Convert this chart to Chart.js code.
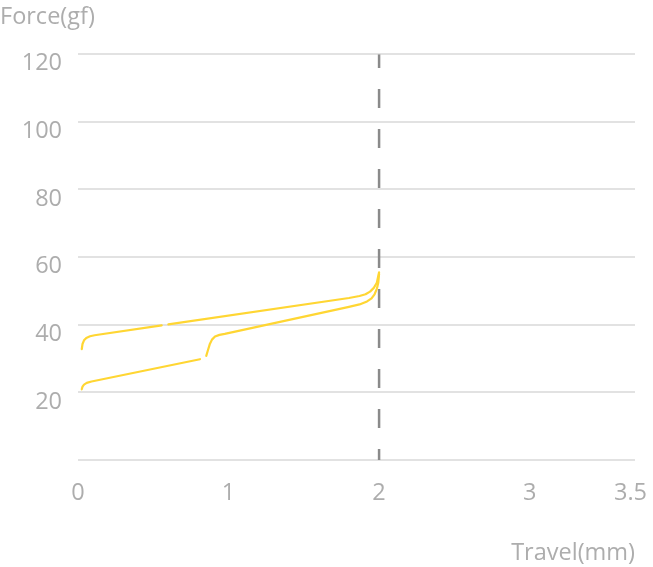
<!DOCTYPE html>
<html>
<head>
<meta charset="utf-8">
<script src="https://cdn.jsdelivr.net/npm/chart.js@4/dist/chart.umd.min.js"></script>
<style>
  html, body { margin: 0; padding: 0; background: #ffffff; }
  #wrap { width: 653px; height: 567px; position: relative; }
</style>
</head>
<body>
<div id="wrap"><canvas id="c"></canvas></div>
<script>
// ---- data ----
const upperTravel = [0.025, 0.03, 0.04, 0.055, 0.08, 0.11, 0.556, 0.58, 0.60, 1.80, 1.87, 1.91, 1.94, 1.965, 1.985, 2.0];
const upperForce  = [32.8, 34.3, 35.4, 36.1, 36.6, 36.9, 39.8, null, 40.1, 47.9, 48.5, 49.0, 49.8, 50.9, 52.4, 55.5];

const lowerTravel = [0.025, 0.03, 0.04, 0.058, 0.09, 0.81, 0.83, 0.852, 0.862, 0.875, 0.89, 0.91, 0.94, 0.975, 1.80, 1.87, 1.92, 1.95, 1.97, 1.985, 1.995, 2.0];
const lowerForce  = [20.9, 21.7, 22.3, 22.8, 23.2, 29.8, null, 30.8, 32.3, 34.2, 35.6, 36.5, 37.0, 37.3, 45.3, 46.0, 46.9, 47.8, 49.0, 50.6, 52.5, 55.0];

const markerTravel = [2, 2];
const markerForce  = [0, 120];

const xTickValues = [0, 1, 2, 3, 3.67];
const xTickLabels = ['0', '1', '2', '3', '3.5'];
const yTickValues = [0, 20, 40, 60, 80, 100, 120];
const yTickLabels = ['', '20', '40', '60', '80', '100', '120'];

const toPoints = (xs, ys) => xs.map((x, i) => ({ x: x, y: ys[i] }));

const FONT = "'Open Sans', 'Noto Sans', sans-serif";
const FS = 23.5;
const TEXT = '#adadad';
const GRID = '#e2e2e2';
const YELLOW = '#ffd633';

new Chart(document.getElementById('c'), {
  type: 'scatter',
  data: {
    datasets: [
      {
        data: toPoints(upperTravel, upperForce),
        showLine: true, spanGaps: false,
        borderColor: YELLOW, borderWidth: 2.2, borderJoinStyle: 'round', borderCapStyle: 'round',
        pointRadius: 0, tension: 0
      },
      {
        data: toPoints(lowerTravel, lowerForce),
        showLine: true, spanGaps: false,
        borderColor: YELLOW, borderWidth: 2.2, borderJoinStyle: 'round', borderCapStyle: 'round',
        pointRadius: 0, tension: 0
      },
      {
        data: toPoints(markerTravel, markerForce),
        showLine: true,
        borderColor: '#8a8a8a', borderWidth: 2.5,
        borderDash: [19, 21], borderDashOffset: 8,
        pointRadius: 0
      }
    ]
  },
  options: {
    responsive: true,
    maintainAspectRatio: false,
    animation: false,
    layout: { padding: { top: 3, left: 0, right: 0, bottom: 0 } },
    plugins: {
      legend: { display: false },
      tooltip: { enabled: false },
      title: {
        display: true,
        text: 'Force(gf)',
        align: 'start',
        color: TEXT,
        font: { family: FONT, size: FS, weight: 'normal' },
        padding: { top: 0, bottom: 23 }
      }
    },
    scales: {
      x: {
        type: 'linear',
        min: 0, max: 3.7,
        border: { display: false },
        grid: { display: false, drawTicks: false },
        afterBuildTicks: (s) => { s.ticks = xTickValues.map(v => ({ value: v })); },
        afterFit: (s) => { s.height = 107; s.paddingRight = 18; s.paddingLeft = 0; },
        ticks: {
          color: TEXT,
          font: { family: FONT, size: FS },
          padding: 19,
          maxRotation: 0,
          autoSkip: false,
          callback: (v) => { const i = xTickValues.indexOf(v); return i >= 0 ? xTickLabels[i] : ''; }
        },
        title: {
          display: true,
          text: 'Travel(mm)',
          align: 'end',
          color: TEXT,
          font: { family: FONT, size: FS },
          padding: { top: 0, bottom: 0 }
        }
      },
      y: {
        type: 'linear',
        min: 0, max: 120,
        border: { display: false },
        grid: { color: GRID, lineWidth: 2, drawTicks: false },
        afterBuildTicks: (s) => { s.ticks = yTickValues.map(v => ({ value: v })); },
        afterFit: (s) => { s.width = 78; },
        ticks: {
          color: TEXT,
          font: { family: FONT, size: FS },
          padding: 16,
          labelOffset: 9.5,
          autoSkip: false,
          callback: (v) => { const i = yTickValues.indexOf(v); return i >= 0 ? yTickLabels[i] : ''; }
        }
      }
    }
  }
});
</script>
</body>
</html>
